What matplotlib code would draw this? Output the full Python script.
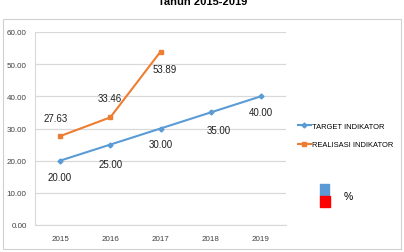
import matplotlib
matplotlib.use("Agg")
from matplotlib import pyplot as plt
from matplotlib.patches import Rectangle

plt.rcParams['font.family'] = ['Liberation Sans', 'DejaVu Sans']

years = ["2015", "2016", "2017", "2018", "2019"]
target = [20.00, 25.00, 30.00, 35.00, 40.00]
realisasi = [27.63, 33.46, 53.89]
yticks = [0, 10, 20, 30, 40, 50, 60]

blue = "#5B9BD5"
orange = "#ED7D31"

fig = plt.figure(figsize=(4.04, 2.53), dpi=100)
fig.patch.set_facecolor("white")

# outer chart frame
fig.patches.append(Rectangle((3 / 404, 1 - 250 / 253), 398 / 404, 230 / 253,
                             transform=fig.transFigure, fill=False,
                             edgecolor="#D0D0D0", linewidth=0.8))

ax = fig.add_axes([35 / 404, 1 - 226 / 253, 251 / 404, 193 / 253])
x = list(range(len(years)))
ax.plot(x, target, color=blue, marker="D", markersize=2.5, linewidth=1.5,
        label="TARGET INDIKATOR", zorder=3)
ax.plot(x[:len(realisasi)], realisasi, color=orange, marker="s", markersize=3.5,
        linewidth=1.5, label="REALISASI INDIKATOR", zorder=3)

ax.set_xlim(-0.5, len(years) - 0.5)
ax.set_ylim(0, 60)
ax.set_yticks(yticks)
ax.set_yticklabels([f"{v:.2f}" for v in yticks], fontsize=5.8)
ax.set_xticks(x)
ax.set_xticklabels(years, fontsize=5.8)
ax.tick_params(length=0, pad=7, colors="#404040")
ax.tick_params(axis="y", pad=6)
ax.grid(axis="y", color="#D9D9D9", linewidth=0.9)
ax.set_axisbelow(True)
for s in ["top", "right"]:
    ax.spines[s].set_visible(False)
ax.spines["left"].set_color("#D9D9D9")
ax.spines["bottom"].set_color("#D9D9D9")

# data labels (offsets in pixels)
t_off = [(0, -16), (0, -19), (0, -16), (8, -18), (0, -16)]
for i, v in enumerate(target):
    ax.annotate(f"{v:.2f}", (i, v), xytext=t_off[i], textcoords="offset pixels",
                ha="center", va="center", fontsize=7, color="#202020")
r_off = [(-4, 18), (0, 19), (4, -17)]
for i, v in enumerate(realisasi):
    ax.annotate(f"{v:.2f}", (i, v), xytext=r_off[i], textcoords="offset pixels",
                ha="center", va="center", fontsize=7, color="#202020")

fig.legend(loc="center left", bbox_to_anchor=(298 / 404, 1 - 136.5 / 253),
           frameon=False, fontsize=5.4, handlelength=1.7, handletextpad=0.15,
           labelspacing=1.5, borderpad=0, borderaxespad=0)

# small colour key with "%"
fig.patches.append(Rectangle((320 / 404, 1 - 197 / 253), 9 / 404, 12 / 253,
                             transform=fig.transFigure, color=blue))
fig.patches.append(Rectangle((320 / 404, 1 - 208 / 253), 10 / 404, 11 / 253,
                             transform=fig.transFigure, color="#FF0000"))
fig.text(348 / 404, 1 - 197 / 253, "%", fontsize=7.5, ha="center", va="center")

fig.text(203 / 404, 1 - 5 / 253, "Tahun 2015-2019", fontsize=8, fontweight="bold",
         ha="center", va="baseline")

fig.savefig("out.png", dpi=100)
